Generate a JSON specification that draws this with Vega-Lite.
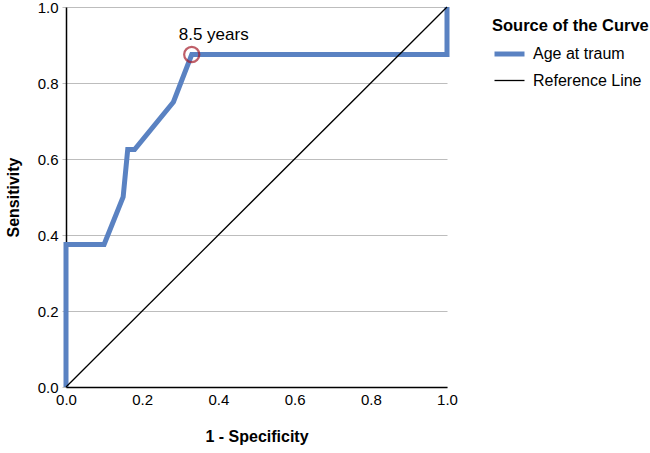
{
  "$schema": "https://vega.github.io/schema/vega-lite/v6.json",
  "width": 381,
  "height": 380,
  "autosize": "none",
  "padding": {"left": 66, "top": 7, "right": 203, "bottom": 66},
  "background": "white",
  "datasets": {
    "roc": [
      {"series": "Age at traum", "idx": 0, "fpr": 0, "tpr": 0},
      {"series": "Age at traum", "idx": 1, "fpr": 0, "tpr": 0.375},
      {"series": "Age at traum", "idx": 2, "fpr": 0.1, "tpr": 0.375},
      {"series": "Age at traum", "idx": 3, "fpr": 0.15, "tpr": 0.5},
      {"series": "Age at traum", "idx": 4, "fpr": 0.162, "tpr": 0.625},
      {"series": "Age at traum", "idx": 5, "fpr": 0.18, "tpr": 0.625},
      {"series": "Age at traum", "idx": 6, "fpr": 0.282, "tpr": 0.75},
      {"series": "Age at traum", "idx": 7, "fpr": 0.33, "tpr": 0.875},
      {"series": "Age at traum", "idx": 8, "fpr": 1, "tpr": 0.875},
      {"series": "Age at traum", "idx": 9, "fpr": 1, "tpr": 1},
      {"series": "Reference Line", "idx": 0, "fpr": 0, "tpr": 0},
      {"series": "Reference Line", "idx": 1, "fpr": 1, "tpr": 1}
    ],
    "cutoff": [
      {"fpr": 0.33, "tpr": 0.875, "label": "8.5 years"}
    ]
  },
  "config": {
    "font": "Liberation Sans",
    "view": {"stroke": null},
    "axis": {
      "labelFont": "Liberation Sans",
      "titleFont": "Liberation Sans",
      "labelFontSize": 15,
      "titleFontSize": 16,
      "titleFontWeight": "bold",
      "labelColor": "#000000",
      "titleColor": "#000000",
      "domainColor": "#000000",
      "domainWidth": 1.5
    }
  },
  "layer": [
    {
      "data": {"name": "roc"},
      "mark": {"type": "line", "strokeCap": "butt", "strokeJoin": "miter"},
      "encoding": {
        "x": {
          "field": "fpr", "type": "quantitative",
          "scale": {"domain": [0, 1], "nice": false},
          "axis": {"title": "1 - Specificity", "values": [0, 0.2, 0.4, 0.6, 0.8, 1], "format": ".1f", "grid": false, "ticks": false, "labelPadding": 5, "titlePadding": 21, "labelFlush": false}
        },
        "y": {
          "field": "tpr", "type": "quantitative",
          "scale": {"domain": [0, 1], "nice": false},
          "axis": {"title": "Sensitivity", "values": [0, 0.2, 0.4, 0.6, 0.8, 1], "format": ".1f", "grid": true, "gridColor": "#bdbdbd", "gridWidth": 1, "tickColor": "#bdbdbd", "tickSize": 4, "labelPadding": 4, "titlePadding": 16, "labelFlush": false}
        },
        "color": {
          "field": "series", "type": "nominal",
          "scale": {"domain": ["Age at traum", "Reference Line"], "range": ["#5a82c2", "#000000"]},
          "legend": {
            "title": "Source of the Curve",
            "orient": "none",
            "legendX": 426,
            "legendY": 11,
            "symbolType": "stroke",
            "symbolSize": 900,
            "titleFontSize": 16.5,
            "titleFontWeight": "bold",
            "titleColor": "#000000",
            "labelFontSize": 16,
            "labelColor": "#000000",
            "labelOffset": 6,
            "rowPadding": -1,
            "titlePadding": 2
          }
        },
        "strokeWidth": {
          "field": "series", "type": "nominal",
          "scale": {"domain": ["Age at traum", "Reference Line"], "range": [5, 1.3]},
          "legend": {
            "title": "Source of the Curve"
          }
        },
        "order": {"field": "idx", "type": "quantitative"}
      }
    },
    {
      "data": {"name": "cutoff"},
      "mark": {"type": "point", "shape": "circle", "filled": false, "stroke": "#a51c2a", "strokeWidth": 2.2, "size": 230},
      "encoding": {
        "x": {"field": "fpr", "type": "quantitative"},
        "y": {"field": "tpr", "type": "quantitative"}
      }
    },
    {
      "data": {"name": "cutoff"},
      "mark": {"type": "text", "fontSize": 17, "dy": -20, "dx": 22, "color": "#000000", "font": "Liberation Sans"},
      "encoding": {
        "x": {"field": "fpr", "type": "quantitative"},
        "y": {"field": "tpr", "type": "quantitative"},
        "text": {"field": "label", "type": "nominal"}
      }
    }
  ]
}
